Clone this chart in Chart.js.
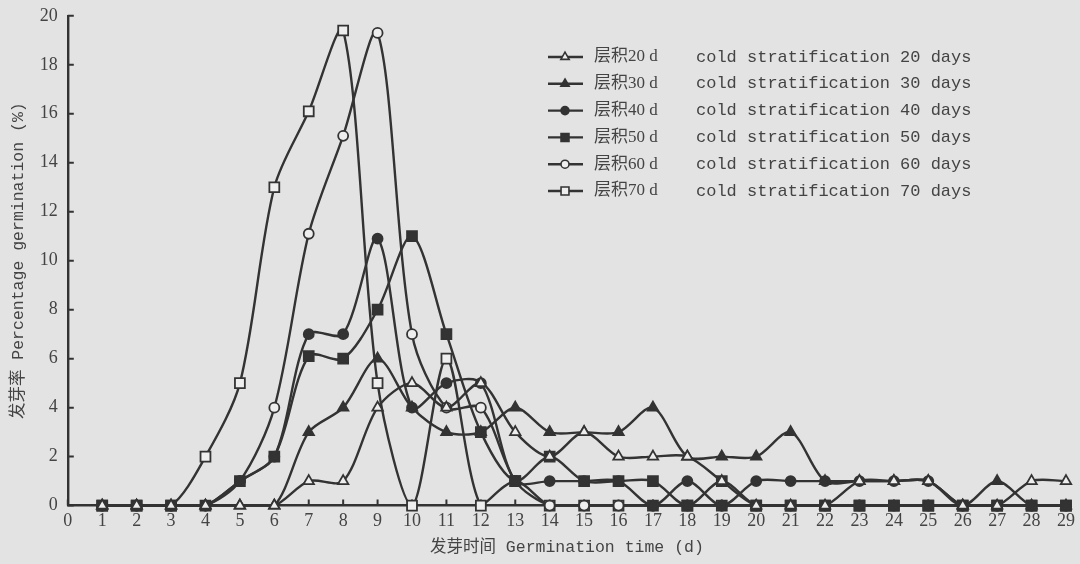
<!DOCTYPE html>
<html>
<head>
<meta charset="utf-8">
<script src="https://cdn.jsdelivr.net/npm/chart.js@4.4.1/dist/chart.umd.min.js"></script>
<style>
  html, body { margin: 0; padding: 0; background: #e3e3e3; overflow: hidden; }
  #wrap { width: 1080px; height: 564px; overflow: hidden; }
  canvas { display: block; background: #e3e3e3; margin-top: -5px; }
</style>
</head>
<body>
<div id="wrap"><canvas id="chart" width="1080" height="569"></canvas></div>
<script>
// Germination time (d)
const days = [1, 2, 3, 4, 5, 6, 7, 8, 9, 10, 11, 12, 13, 14, 15, 16, 17, 18, 19, 20, 21, 22, 23, 24, 25, 26, 27, 28, 29];

// Percentage germination (%) per stratification length
const strat20 = [0, 0, 0, 0, 0, 0, 1, 1, 4, 5, 4, 5, 3, 2, 3, 2, 2, 2, 1, 0, 0, 0, 1, 1, 1, 0, 0, 1, 1];
const strat30 = [0, 0, 0, 0, 0, 0, 3, 4, 6, 4, 3, 3, 4, 3, 3, 3, 4, 2, 2, 2, 3, 1, 1, 1, 1, 0, 1, 0, 0];
const strat40 = [0, 0, 0, 0, 1, 2, 7, 7, 10.9, 4, 5, 5, 1, 1, 1, 1, 0, 1, 0, 1, 1, 1, 1, 1, 1, 0, 0, 0, 0];
const strat50 = [0, 0, 0, 0, 1, 2, 6.1, 6, 8, 11, 7, 3, 1, 2, 1, 1, 1, 0, 1, 0, 0, 0, 0, 0, 0, 0, 0, 0, 0];
const strat60 = [0, 0, 0, 0, 1, 4, 11.1, 15.1, 19.3, 7, 4, 4, 1, 0, 0, 0, 0, 0, 0, 0, 0, 0, 0, 0, 0, 0, 0, 0, 0];
const strat70 = [0, 0, 0, 2, 5, 13, 16.1, 19.4, 5, 0, 6, 0, 1, 0, 0, 0, 0, 0, 0, 0, 0, 0, 0, 0, 0, 0, 0, 0, 0];

// legend text
const legendCn = ['层积20 d', '层积30 d', '层积40 d', '层积50 d', '层积60 d', '层积70 d'];
const legendEn = ['cold stratification 20 days', 'cold stratification 30 days', 'cold stratification 40 days',
  'cold stratification 50 days', 'cold stratification 60 days', 'cold stratification 70 days'];

const INK = '#333333';
const PAPER = '#eeeeee';
const TEXT = '#444444';

function series(values, style, filled, radius) {
  return {
    data: days.map((d, i) => ({ x: d, y: values[i] })),
    borderColor: INK,
    borderWidth: 2.4,
    tension: 0.3,
    pointStyle: style,
    pointRadius: radius,
    pointHoverRadius: radius,
    pointBorderWidth: 1.8,
    pointBorderColor: INK,
    pointBackgroundColor: filled ? INK : PAPER,
    clip: false
  };
}

// ticks point inward, like the printed figure
const inwardTicks = {
  id: 'inwardTicks',
  beforeDatasetsDraw(chart) {
    const { ctx, scales: { x, y } } = chart;
    ctx.save();
    ctx.strokeStyle = INK;
    ctx.lineWidth = 2;
    ctx.beginPath();
    x.ticks.forEach(t => {
      const px = x.getPixelForValue(t.value);
      ctx.moveTo(px, x.top);
      ctx.lineTo(px, x.top - 6);
    });
    y.ticks.forEach(t => {
      const py = y.getPixelForValue(t.value);
      ctx.moveTo(y.right, py);
      ctx.lineTo(y.right + 6, py);
    });
    ctx.stroke();
    ctx.restore();
  }
};

// legend box inside the plot, top right (canvas is shifted up 5px)
const seriesLegend = {
  id: 'seriesLegend',
  afterDraw(chart) {
    const ctx = chart.ctx;
    chart.data.datasets.forEach((ds, i) => {
      const y = 62 + i * 26.8;
      ctx.save();
      ctx.strokeStyle = INK;
      ctx.lineWidth = 2.4;
      ctx.beginPath();
      ctx.moveTo(548, y);
      ctx.lineTo(583, y);
      ctx.stroke();
      ctx.fillStyle = ds.pointBackgroundColor;
      ctx.strokeStyle = INK;
      ctx.lineWidth = 1.6;
      Chart.helpers.drawPoint(ctx, { pointStyle: ds.pointStyle, radius: ds.pointRadius * 0.8, borderWidth: 1.6 }, 565, y);
      ctx.fillStyle = TEXT;
      ctx.textBaseline = 'middle';
      ctx.font = '17px "Liberation Serif", "Noto Sans CJK SC"';
      ctx.fillText(legendCn[i], 594, y);
      ctx.font = '17px "Liberation Mono"';
      ctx.fillText(legendEn[i], 696, y);
      ctx.restore();
    });
  }
};

new Chart(document.getElementById('chart'), {
  type: 'line',
  data: {
    datasets: [
      series(strat20, 'triangle', false, 6),
      series(strat30, 'triangle', true, 6),
      series(strat40, 'circle', true, 5),
      series(strat50, 'rect', true, 7),
      series(strat60, 'circle', false, 5),
      series(strat70, 'rect', false, 7)
    ]
  },
  options: {
    responsive: false,
    animation: false,
    devicePixelRatio: 1,
    layout: { padding: { left: 5, right: 4, top: 1, bottom: 4 } },
    plugins: { legend: { display: false }, tooltip: { enabled: false } },
    scales: {
      x: {
        type: 'linear',
        min: 0,
        max: 29,
        grid: { display: false, drawTicks: false },
        border: { display: true, color: INK, width: 2.4 },
        ticks: { stepSize: 1, padding: 5, color: TEXT, font: { family: '"Liberation Serif"', size: 18 } },
        title: {
          display: true,
          text: '发芽时间 Germination time (d)',
          color: TEXT,
          padding: { top: 1, bottom: 2 },
          font: { family: '"Liberation Mono", "Noto Sans CJK SC"', size: 16.5 }
        }
      },
      y: {
        min: 0,
        max: 20,
        grid: { display: false, drawTicks: false },
        border: { display: true, color: INK, width: 2.4 },
        ticks: { stepSize: 2, padding: 10, color: TEXT, font: { family: '"Liberation Serif"', size: 18 } },
        title: {
          display: true,
          text: '发芽率 Percentage germination (%)',
          color: TEXT,
          padding: { top: 4, bottom: 1 },
          font: { family: '"Liberation Mono", "Noto Sans CJK SC"', size: 16.5 }
        }
      }
    }
  },
  plugins: [inwardTicks, seriesLegend]
});
</script>
</body>
</html>
